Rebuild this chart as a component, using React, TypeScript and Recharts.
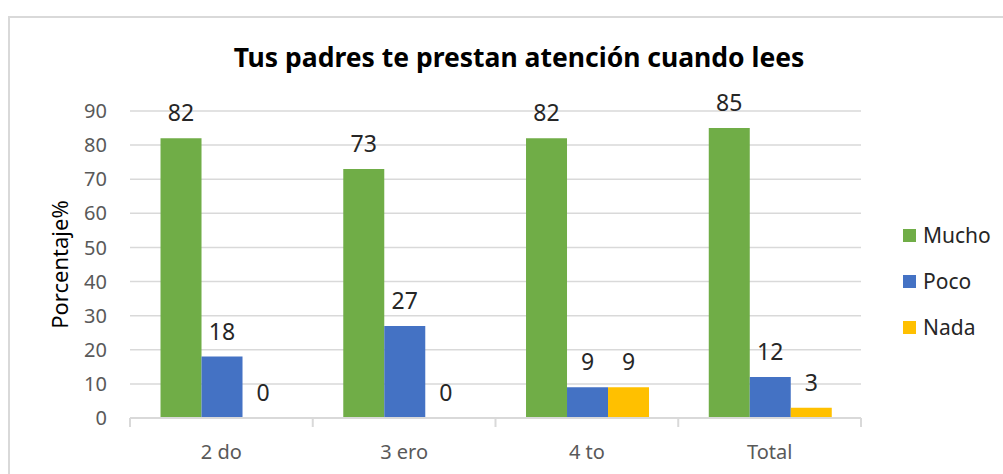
import { Bar, BarChart, CartesianGrid, Label, LabelList, Legend, XAxis, YAxis } from "recharts";

const categories = ["2 do", "3 ero", "4 to", "Total"];
const mucho = [82, 73, 82, 85];
const poco = [18, 27, 9, 12];
const nada = [0, 0, 9, 3];
const yTicks = [0, 10, 20, 30, 40, 50, 60, 70, 80, 90];

const series = [
  { key: "mucho", name: "Mucho", color: "#70AD47" },
  { key: "poco", name: "Poco", color: "#4472C4" },
  { key: "nada", name: "Nada", color: "#FFC000" },
];

const data = categories.map((c, i) => ({
  cat: c,
  mucho: mucho[i],
  poco: poco[i],
  nada: nada[i],
}));

const GRID = "#D9D9D9";
const TICK = "#595959";

type TickProps = {
  x?: number;
  y?: number;
  index?: number;
  visibleTicksCount?: number;
  payload?: { value: string; offset?: number };
};

// Excel pone las marcas entre categorías, no en el centro
function CatTick({ x = 0, y = 0, index = 0, visibleTicksCount = 0, payload }: TickProps) {
  const half = payload?.offset ?? 0;
  return (
    <g>
      <line x1={x - half} x2={x - half} y1={y} y2={y + 9} stroke={GRID} strokeWidth={2} />
      {index === visibleTicksCount - 1 && (
        <line x1={x + half} x2={x + half} y1={y} y2={y + 9} stroke={GRID} strokeWidth={2} />
      )}
      <text x={x} y={y + 41} textAnchor="middle" fill={TICK} fontSize={20}>
        {payload?.value}
      </text>
    </g>
  );
}

function YTitle({ viewBox }: { viewBox?: { x: number; y: number; width: number; height: number } }) {
  const vb = viewBox ?? { x: 0, y: 0, width: 0, height: 0 };
  const cx = vb.x + 68;
  const cy = vb.y + vb.height / 2;
  return (
    <text
      x={cx}
      y={cy}
      transform={`rotate(-90 ${cx} ${cy})`}
      textAnchor="middle"
      fill="#000"
      fontSize={22}
    >
      Porcentaje%
    </text>
  );
}

type BarLabelProps = { x?: number; y?: number; width?: number; height?: number; value?: number | string };

// etiqueta propia: así también se ven los ceros
function BarValue({ x = 0, y = 0, width = 0, height = 0, value }: BarLabelProps) {
  const top = Math.min(Number(y), Number(y) + Number(height));
  return (
    <text x={Number(x) + Number(width) / 2} y={top - 17} textAnchor="middle" fill="#262626" fontSize={23}>
      {String(value)}
    </text>
  );
}

function LegendBox() {
  return (
    <div style={{ width: 142, paddingLeft: 42, boxSizing: "border-box" }}>
      {series.map((s) => (
        <div key={s.key} style={{ height: 46, display: "flex", alignItems: "center" }}>
          <span style={{ width: 13, height: 13, background: s.color, display: "inline-block", marginRight: 7 }} />
          <span style={{ fontSize: 21, color: "#262626" }}>{s.name}</span>
        </div>
      ))}
    </div>
  );
}

export default function App() {
  return (
    <div
      style={{
        position: "absolute",
        left: 0,
        top: 0,
        width: 1003,
        height: 474,
        overflow: "hidden",
        background: "#fff",
        fontFamily: "'Noto Sans', sans-serif",
      }}
    >
      <div
        style={{
          position: "absolute",
          left: 8,
          top: 16,
          width: 1020,
          height: 500,
          border: `2px solid ${GRID}`,
        }}
      />
      <div
        style={{
          position: "absolute",
          left: 0,
          top: 42,
          width: 1038,
          textAlign: "center",
          fontSize: 26.5,
          fontWeight: 700,
          lineHeight: "30px",
          color: "#000",
        }}
      >
        Tus padres te prestan atención cuando lees
      </div>
      <div style={{ position: "absolute", left: 0, top: 0 }}>
        <BarChart
          width={1003}
          height={474}
          data={data}
          margin={{ top: 111, right: 0, bottom: 0, left: 0 }}
          barCategoryGap="16.7%"
          barGap={0}
        >
          <CartesianGrid horizontal vertical={false} stroke={GRID} strokeWidth={1.5} />
          <XAxis
            dataKey="cat"
            height={56}
            axisLine={{ stroke: GRID, strokeWidth: 2 }}
            tickLine={false}
            tickSize={0}
            tickMargin={0}
            interval={0}
            tick={(p: object) => <CatTick {...(p as TickProps)} />}
          />
          <YAxis
            width={130}
            domain={[0, 90]}
            ticks={yTicks}
            interval={0}
            axisLine={false}
            tickLine={false}
            tickSize={0}
            tickMargin={23}
            tick={{ fill: TICK, fontSize: 20 }}
          >
            <Label content={(p: object) => <YTitle {...(p as object)} />} />
          </YAxis>
          <Legend
            layout="vertical"
            align="right"
            verticalAlign="middle"
            wrapperStyle={{ top: 212 }}
            content={() => <LegendBox />}
          />
          {series.map((s) => (
            <Bar
              key={s.key}
              dataKey={s.key}
              name={s.name}
              fill={s.color}
              minPointSize={0.01}
              isAnimationActive={false}
            >
              <LabelList dataKey={s.key} content={(p: object) => <BarValue {...(p as BarLabelProps)} />} />
            </Bar>
          ))}
        </BarChart>
      </div>
    </div>
  );
}
